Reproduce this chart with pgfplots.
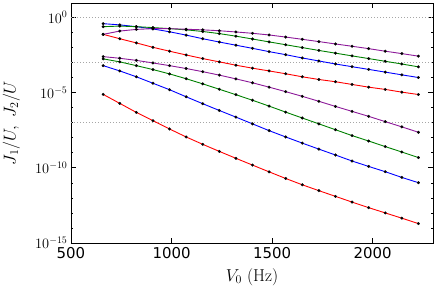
\documentclass[border=0pt]{standalone}
\usepackage{pgfplots}
\pgfplotsset{compat=1.18}
\usepackage{pgfplotstable}
\usepackage{fontspec}
\newfontfamily\dejavu{DejaVu Sans}
\definecolor{mred}{rgb}{1,0,0}
\definecolor{mblue}{rgb}{0,0,1}
\definecolor{mgreen}{rgb}{0,0.5,0}
\definecolor{mpurple}{rgb}{0.55,0.1,0.6}

\pgfplotstableread{
x      Bone     Gone     Pone     Rone     Ptwo     Gtwo     Btwo     Rtwo
660    3.80e-1  2.40e-1  7.41e-2  7.41e-2  2.45e-3  1.74e-3  6.17e-4  7.59e-6
742.5  3.16e-1  2.63e-1  1.23e-1  3.80e-2  1.91e-3  1.10e-3  2.75e-4  1.91e-6
825    2.40e-1  2.40e-1  1.58e-1  2.00e-2  1.38e-3  6.17e-4  1.12e-4  4.79e-7
907.5  1.70e-1  2.09e-1  1.78e-1  1.02e-2  9.33e-4  3.39e-4  4.17e-5  1.35e-7
990    1.10e-1  1.78e-1  1.78e-1  5.62e-3  6.17e-4  1.74e-4  1.55e-5  3.80e-8
1072.5 6.61e-2  1.48e-1  1.62e-1  3.16e-3  3.98e-4  8.32e-5  5.25e-6  1.12e-8
1155   3.80e-2  1.15e-1  1.48e-1  1.82e-3  2.45e-4  3.80e-5  1.82e-6  3.63e-9
1237.5 2.29e-2  8.32e-2  1.29e-1  1.10e-3  1.45e-4  1.66e-5  6.46e-7  1.23e-9
1320   1.41e-2  5.62e-2  1.07e-1  6.61e-4  8.13e-5  7.24e-6  2.34e-7  4.27e-10
1402.5 8.71e-3  3.63e-2  8.71e-2  4.17e-4  4.47e-5  3.09e-6  8.32e-8  1.51e-10
1485   5.25e-3  2.34e-2  6.76e-2  2.75e-4  2.29e-5  1.26e-6  2.95e-8  5.37e-11
1567.5 3.31e-3  1.51e-2  4.90e-2  1.78e-4  1.15e-5  5.01e-7  1.12e-8  1.95e-11
1650   2.00e-3  9.77e-3  3.47e-2  1.12e-4  5.62e-6  2.04e-7  4.37e-9  7.41e-12
1732.5 1.26e-3  6.31e-3  2.45e-2  7.41e-5  2.63e-6  8.32e-8  1.74e-9  3.02e-12
1815   7.94e-4  4.17e-3  1.70e-2  5.25e-5  1.20e-6  3.39e-8  7.08e-10 1.26e-12
1897.5 5.25e-4  2.75e-3  1.20e-2  3.47e-5  5.62e-7  1.38e-8  2.82e-10 5.25e-13
1980   3.47e-4  1.82e-3  8.32e-3  2.29e-5  2.63e-7  6.03e-9  1.23e-10 2.24e-13
2062.5 2.29e-4  1.20e-3  5.62e-3  1.62e-5  1.17e-7  2.57e-9  5.50e-11 1.00e-13
2145   1.51e-4  7.94e-4  3.89e-3  1.07e-5  5.25e-8  1.12e-9  2.29e-11 4.47e-14
2227.5 1.00e-4  5.13e-4  2.63e-3  7.41e-6  2.29e-8  4.79e-10 1.02e-11 1.95e-14
}\datatable

\begin{document}
\begin{tikzpicture}
\useasboundingbox (-71bp,-48bp) rectangle (365bp,243bp);
\begin{axis}[
  scale only axis,
  width=362bp, height=240bp,
  xmin=500, xmax=2300,
  ymode=log, ymin=1e-15, ymax=9,
  xtick={500,1000,1500,2000},
  xticklabels={500,1000,1500,2000},
  ytick={1e-15,1e-10,1e-5,1},
  minor ytick={1e-14,1e-13,1e-12,1e-11,1e-9,1e-8,1e-7,1e-6,1e-4,1e-3,1e-2,1e-1},
  tick align=inside,
  major tick length=5bp, minor tick length=2.5bp,
  every tick/.style={black, line width=0.6pt},
  axis line style={black, line width=0.8pt},
  xticklabel style={font=\dejavu\fontsize{15}{15}\selectfont, yshift=-1bp},
  yticklabel style={font=\fontsize{14.4}{15}\selectfont},
  xlabel={$V_0$ (Hz)},
  ylabel={$J_1/U,\ J_2/U$},
  label style={font=\fontsize{17.28}{18}\selectfont},
  xlabel style={at={(axis description cs:0.5,-0.142)}, anchor=center},
  ylabel style={at={(axis description cs:-0.165,0.5)}, anchor=center},
  clip=true,
  every axis plot/.append style={line width=0.9pt, mark=*, mark size=1.4bp, mark options={draw=black, fill=black, line width=0.2pt}},
]
\addplot[gray!70, line width=1bp, dash pattern=on 1bp off 2bp, mark=none, forget plot] coordinates {(500,1) (2300,1)};
\addplot[gray!70, line width=1bp, dash pattern=on 1bp off 2bp, mark=none, forget plot] coordinates {(500,1e-3) (2300,1e-3)};
\addplot[gray!70, line width=1bp, dash pattern=on 1bp off 2bp, mark=none, forget plot] coordinates {(500,1e-7) (2300,1e-7)};
\addplot[mred] table[x=x, y=Rtwo] {\datatable};
\addplot[mblue] table[x=x, y=Btwo] {\datatable};
\addplot[mgreen] table[x=x, y=Gtwo] {\datatable};
\addplot[mpurple] table[x=x, y=Ptwo] {\datatable};
\addplot[mred] table[x=x, y=Rone] {\datatable};
\addplot[mblue] table[x=x, y=Bone] {\datatable};
\addplot[mgreen] table[x=x, y=Gone] {\datatable};
\addplot[mpurple] table[x=x, y=Pone] {\datatable};
\end{axis}
\end{tikzpicture}
\end{document}
